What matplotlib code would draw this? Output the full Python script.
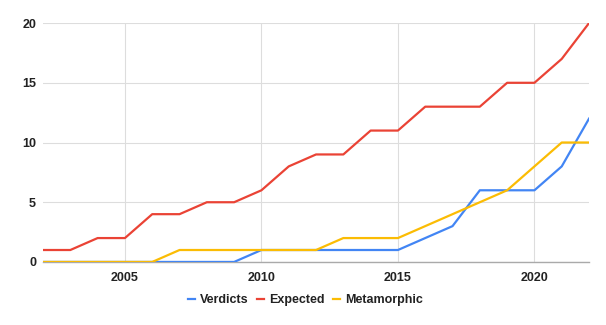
import matplotlib
matplotlib.use("Agg")
import matplotlib.pyplot as plt

years = list(range(2002, 2023))
verdicts = [0, 0, 0, 0, 0, 0, 0, 0, 1, 1, 1, 1, 1, 1, 2, 3, 6, 6, 6, 8, 12]
expected = [1, 1, 2, 2, 4, 4, 5, 5, 6, 8, 9, 9, 11, 11, 13, 13, 13, 15, 15, 17, 20]
metamorphic = [0, 0, 0, 0, 0, 1, 1, 1, 1, 1, 1, 2, 2, 2, 3, 4, 5, 6, 8, 10, 10]

x_ticks = [2005, 2010, 2015, 2020]
y_ticks = [0, 5, 10, 15, 20]

plt.rcParams['font.family'] = ['Liberation Sans', 'DejaVu Sans']

fig = plt.figure(figsize=(6.06, 3.25), dpi=100)
ax = fig.add_axes([0.071, 0.194, 0.901, 0.735])

ax.plot(years, verdicts, color='#4285F4', lw=1.6, label='Verdicts', zorder=3)
ax.plot(years, expected, color='#EA4335', lw=1.6, label='Expected', zorder=3)
ax.plot(years, metamorphic, color='#FBBC04', lw=1.6, label='Metamorphic', zorder=4)

ax.set_xlim(2002, 2022)
ax.set_ylim(0, 20)
ax.set_xticks(x_ticks)
ax.set_yticks(y_ticks)
ax.grid(True, color='#dddddd', lw=0.8, zorder=0)
for s in ['top', 'right', 'left']:
    ax.spines[s].set_visible(False)
ax.spines['bottom'].set_color('#aaaaaa')
ax.spines['bottom'].set_linewidth(1)
ax.tick_params(length=0, labelsize=9)
ax.tick_params(axis='x', pad=7)
ax.tick_params(axis='y', pad=5)
for lab in ax.get_xticklabels() + ax.get_yticklabels():
    lab.set_fontweight('bold')
    lab.set_color('#222222')

leg = fig.legend(loc='center', bbox_to_anchor=(0.504, 0.077), ncol=3, frameon=False,
                 handlelength=0.6, handletextpad=0.4, columnspacing=0.65,
                 prop={'weight': 'bold', 'size': 9})
for t in leg.get_texts():
    t.set_color('#222222')

fig.savefig('out.png', dpi=100)
